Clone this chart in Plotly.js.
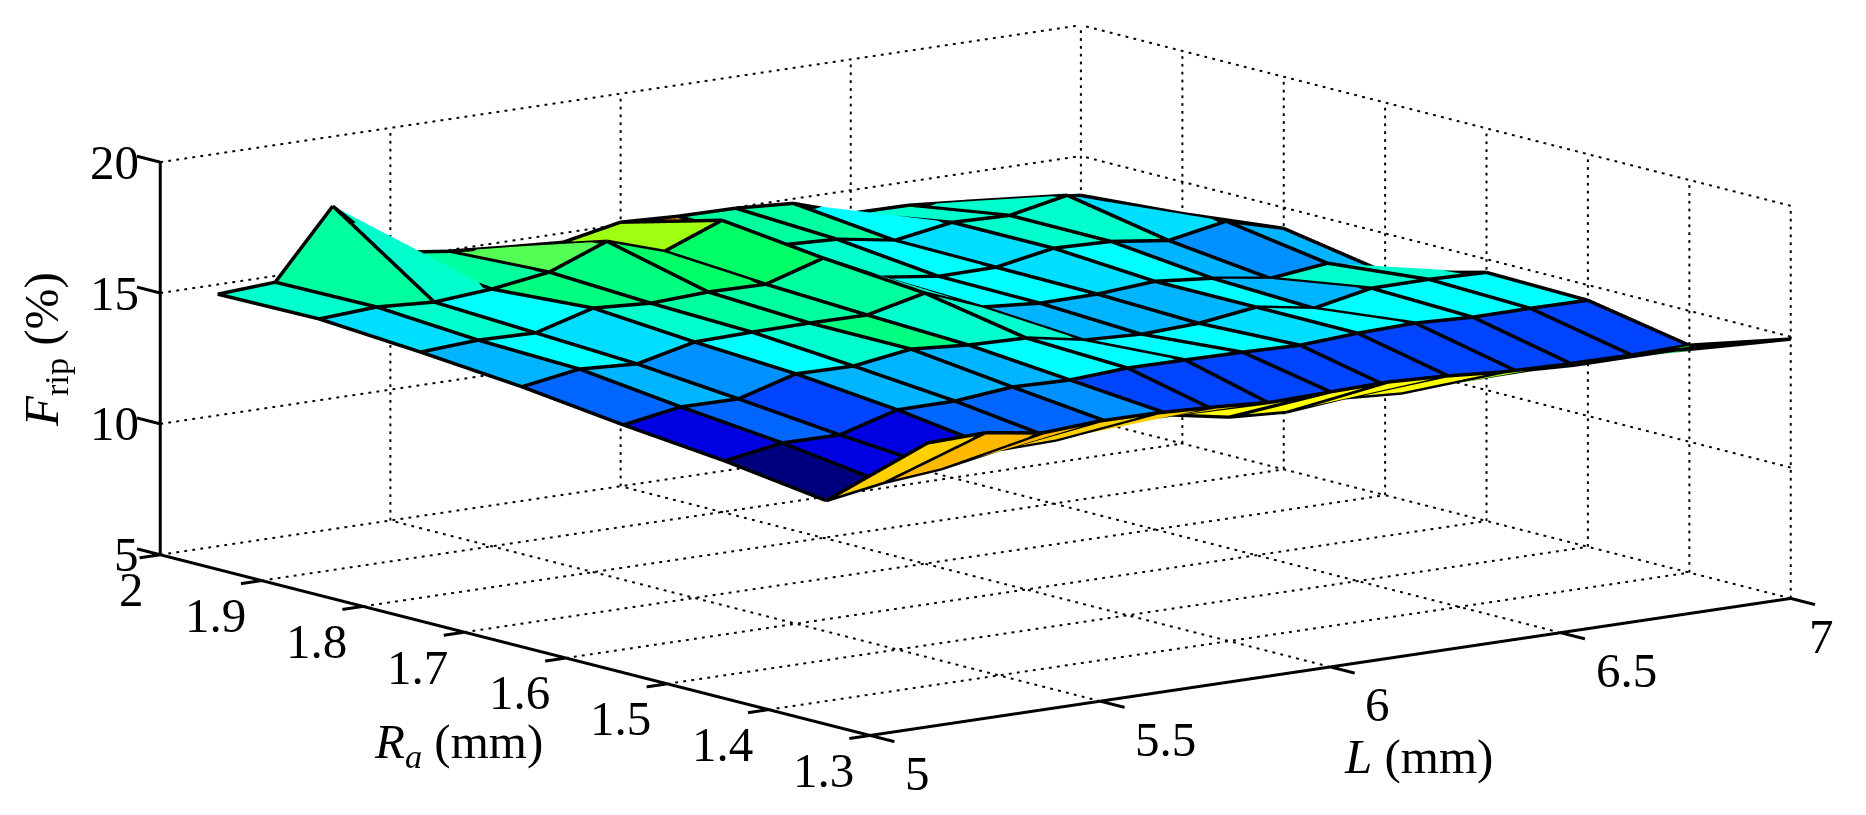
<!DOCTYPE html>
<html>
<head>
<meta charset="utf-8">
<script src="https://cdn.plot.ly/plotly-3.0.1.min.js"></script>
<style>html,body{margin:0;padding:0;background:#fff}</style>
</head>
<body>
<div id="plot" style="width:1866px;height:815px"></div>
<script>
// grid of the surface
var lengths = [5.125,5.25,5.375,5.5,5.625,5.75,5.875,6,6.125,6.25,6.375,6.5,6.625,6.75,6.875,7];
var radii = [2,1.9,1.8,1.7,1.6,1.5,1.4,1.3];

// Frip, one row per radius
var frip2_0 = [14.63,14.76,17.34,15.25,14.96,14.79,14.65,15.09,14.99,14.97,14.83,14.12,14.10,13.92,13.71,13.50];
var frip1_9 = [14.67,14.80,14.66,14.83,15.15,16.00,15.29,16.15,14.87,14.77,14.40,14.76,14.70,15.14,14.05,13.79];
var frip1_8 = [14.39,14.52,14.47,15.09,14.95,15.05,15.02,15.69,14.63,14.34,14.36,14.76,14.69,14.40,14.81,14.21];
var frip1_7 = [14.05,14.40,14.27,14.78,14.83,14.85,14.83,15.34,14.48,14.30,14.32,14.48,14.27,13.94,14.19,13.52];
var frip1_6 = [13.58,13.94,13.92,14.55,14.52,14.84,14.67,14.61,14.20,14.10,14.19,14.48,14.11,14.55,14.56,14.50];
var frip1_5 = [13.19,13.55,13.53,14.16,14.17,14.38,14.32,14.45,14.43,14.40,14.34,14.47,14.53,14.43,14.44,14.42];
var frip1_4 = [12.66,13.02,13.22,13.62,13.67,13.95,13.97,13.56,13.43,13.64,13.50,13.63,13.68,13.58,13.64,13.69];
var frip1_3 = [15.85,15.91,15.58,15.71,15.69,15.59,15.45,15.51,15.56,15.46,15.29,15.23,15.21,15.15,15.01,14.91];
var fripRows = [frip2_0,frip1_9,frip1_8,frip1_7,frip1_6,frip1_5,frip1_4,frip1_3];

// flat colour of each face, same order as the rows above
var a='#00007f',b='#0000e0',c='#0044ff',d='#0066ff',e='#0090ff',f='#00b4ff',g='#00deff',h='#00ffff',
    k='#00ffcc',m='#00ff9f',n='#00ff80',nn='#00ff66',o='#55ff55',p='#a0ff10',q='#ffff00',r='#ffd000',s='#ffb800',t='#ff9000';
var faces2_0 = [k,m,k,m,o,t,p,t,m,m,h,k,k,e,e];
var faces1_9 = [g,k,h,n,n,nn,nn,k,k,h,g,k,k,g,f];
var faces1_8 = [f,h,g,k,m,m,m,k,h,h,g,h,f,e,f];
var faces1_7 = [d,f,e,h,k,n,k,k,f,f,f,h,f,k,k];
var faces1_6 = [b,d,c,f,f,f,h,h,h,h,g,h,h,h,h];
var faces1_5 = [a,b,b,d,d,e,c,c,c,c,c,c,c,c,c];
var faces1_4 = [r,s,s,r,r,r,q,q,q,q,p,p,o,nn,nn];
var faceRows = [faces2_0,faces1_9,faces1_8,faces1_7,faces1_6,faces1_5,faces1_4];

// axis ticks
var lTicks = [5,5.5,6,6.5,7];
var lTickText = ['5','5.5','6','6.5','7'];
var raTicks = [2,1.9,1.8,1.7,1.6,1.5,1.4,1.3];
var raTickText = ['2','1.9','1.8','1.7','1.6','1.5','1.4','1.3'];
var zTicks = [5,10,15,20];
var zTickText = ['5','10','15','20'];

var font = '"Liberation Serif","Times New Roman",serif';

// surface as a mesh, two triangles per face
var vx=[],vy=[],vz=[],ti=[],tj=[],tk=[],fc=[];
var nL = lengths.length;
radii.forEach(function(ra,row){
  lengths.forEach(function(l,col){
    vx.push(l); vy.push(ra); vz.push(fripRows[row][col]);
  });
});
faceRows.forEach(function(cols,row){
  cols.forEach(function(col,idx){
    var v0=row*nL+idx, v1=v0+1, v2=v0+nL+1, v3=v0+nL;
    ti.push(v0,v0); tj.push(v1,v2); tk.push(v2,v3); fc.push(col,col);
  });
});
var mesh = {type:'mesh3d',x:vx,y:vy,z:vz,i:ti,j:tj,k:tk,facecolor:fc,flatshading:true,
  lighting:{ambient:1,diffuse:0,specular:0,roughness:1,fresnel:0},hoverinfo:'skip',showscale:false};

// helper: list of segments into one line trace
function lines(segs,width){
  var x=[],y=[],z=[];
  segs.forEach(function(s){
    s.forEach(function(pt){x.push(pt[0]);y.push(pt[1]);z.push(pt[2]);});
    x.push(null);y.push(null);z.push(null);
  });
  return {type:'scatter3d',mode:'lines',x:x,y:y,z:z,hoverinfo:'skip',showlegend:false,
    line:{color:'#000',width:width}};
}

// the built in dash stretches with the data, so dots are cut by hand
function dotted(p0,p1,count){
  var out=[];
  for(var i=0;i<count;i++){
    var t0=i/count, t1=(i+0.35)/count;
    out.push([p0.map(function(v,ax){return v+(p1[ax]-v)*t0;}),
              p0.map(function(v,ax){return v+(p1[ax]-v)*t1;})]);
  }
  return out;
}

// wireframe, nudged toward the camera so the faces do not eat half of each line
var nudge=[-0.012,-0.0054,0.084];
// the back row and far column get pushed further, a few of their edges got hidden
var edgeNudge=[-0.04,-0.018,0.28];
function wirePoint(row,col,shift){
  return [lengths[col]+shift[0],radii[row]+shift[1],fripRows[row][col]+shift[2]];
}
var wire=[];
radii.forEach(function(ra,row){
  lengths.forEach(function(l,col){
    if(col<lengths.length-1){
      var rowShift = row==0 ? edgeNudge : nudge;
      wire.push([wirePoint(row,col,rowShift),wirePoint(row,col+1,rowShift)]);
    }
    if(row<radii.length-1){
      var colShift = col==lengths.length-1 ? edgeNudge : nudge;
      wire.push([wirePoint(row,col,colShift),wirePoint(row+1,col,colShift)]);
    }
  });
});

// dotted grid on floor and back walls
var grid=[];
lTicks.forEach(function(l){
  grid=grid.concat(dotted([l,1.3,5],[l,2,5],90));
  if(l>5) grid=grid.concat(dotted([l,2,5],[l,2,20],50));
});
raTicks.forEach(function(ra){
  grid=grid.concat(dotted([5,ra,5],[7,ra,5],115));
  grid=grid.concat(dotted([7,ra,5],[7,ra,20],50));
});
zTicks.forEach(function(zv){
  if(zv>5){
    grid=grid.concat(dotted([5,2,zv],[7,2,zv],115));
    grid=grid.concat(dotted([7,1.3,zv],[7,2,zv],90));
  }
});

// solid axes with their ticks
var axes=[[[5,2,5],[5,2,20]],[[5,1.3,5],[5,2,5]],[[5,1.3,5],[7,1.3,5]]];
raTicks.forEach(function(ra){axes.push([[5,ra,5],[4.955,ra,5]]);});
lTicks.forEach(function(l){axes.push([[l,1.3,5],[l,1.276,5]]);});
zTicks.forEach(function(zv){axes.push([[5,2,zv],[5,2.023,zv]]);});

var data=[mesh,lines(wire,7),lines(grid,4),lines(axes,6)];

// tick labels stay real text
var labels=[];
var tickFont={family:font,size:49,color:'#000'};
zTicks.forEach(function(zv,i){
  labels.push({x:5,y:2,z:zv,text:zTickText[i],showarrow:false,xanchor:'right',xshift:-19,font:tickFont});
});
raTicks.forEach(function(ra,i){
  labels.push({x:5,y:ra,z:5,text:raTickText[i],showarrow:false,xanchor:'right',xshift:-14,yshift:-35,font:tickFont});
});
lTicks.forEach(function(l,i){
  labels.push({x:l,y:1.3,z:5,text:lTickText[i],showarrow:false,xanchor:'left',xshift:l==7?16:33,yshift:-38,font:tickFont});
});

var titleFont={family:font,size:49,color:'#000'};
var layout={
  width:1866,height:815,
  margin:{l:0,r:0,t:0,b:0},
  paper_bgcolor:'#fff',
  showlegend:false,
  scene:{
    domain:{x:[0.0332,1],y:[0.0626,1]},
    bgcolor:'#fff',
    aspectmode:'manual',
    aspectratio:{x:3.2615,y:3.496,z:1.0757},
    camera:{projection:{type:'orthographic'},eye:{x:-5.958,y:-7.792,z:1.9465},up:{x:0,y:0,z:1},center:{x:0,y:0,z:0}},
    xaxis:{visible:false,range:[4.9,7.05]},
    yaxis:{visible:false,range:[1.25,2.05]},
    zaxis:{visible:false,range:[4.8,20.2]},
    annotations:labels
  },
  annotations:[
    {xref:'paper',yref:'paper',x:45/1866,y:1-350/815,xanchor:'center',yanchor:'middle',text:'<i>F</i><sub>rip</sub> (%)',textangle:-90,showarrow:false,font:titleFont},
    {xref:'paper',yref:'paper',x:458/1866,y:1-744/815,xanchor:'center',yanchor:'middle',text:'<i>R<sub>a</sub></i> (mm)',showarrow:false,font:titleFont},
    {xref:'paper',yref:'paper',x:1418/1866,y:1-756/815,xanchor:'center',yanchor:'middle',text:'<i>L</i> (mm)',showarrow:false,font:titleFont}
  ]
};
Plotly.newPlot('plot',data,layout,{displayModeBar:false});
</script>
</body>
</html>
